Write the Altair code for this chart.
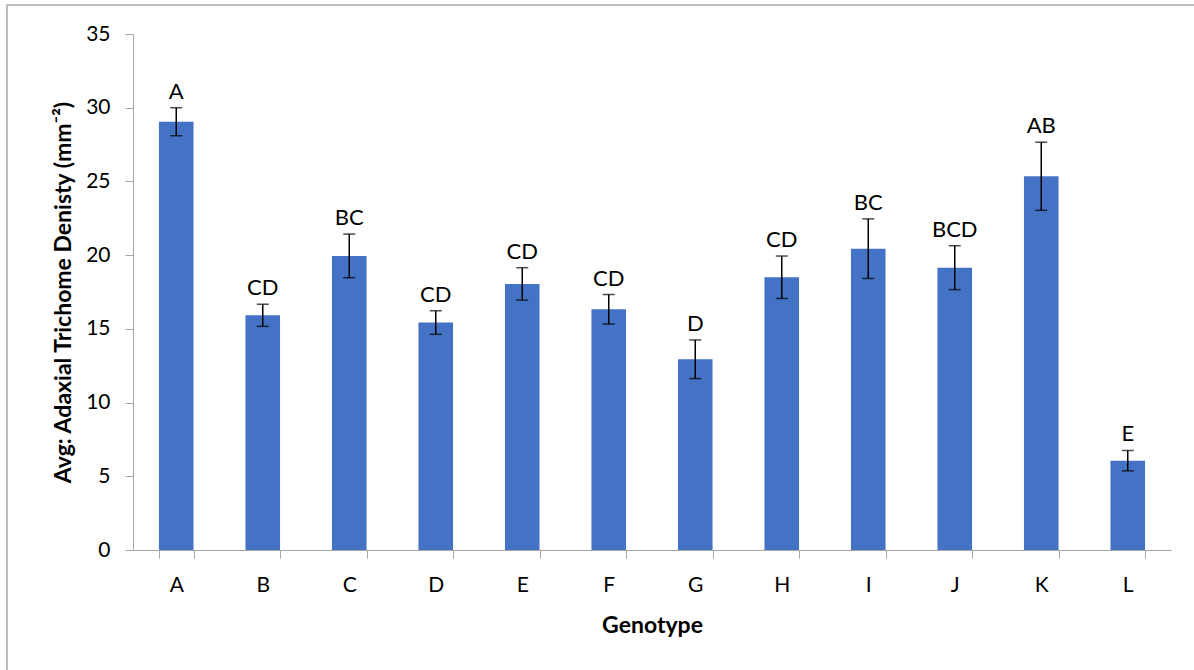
import altair as alt
import pandas as pd

# Mean adaxial trichome density per genotype, with error half-widths and
# significance-group letters.
genotypes = ["A", "B", "C", "D", "E", "F", "G", "H", "I", "J", "K", "L"]
means = [29.05, 15.92, 19.95, 15.43, 18.05, 16.33, 12.94, 18.50, 20.44, 19.15, 25.35, 6.06]
errors = [0.95, 0.75, 1.48, 0.80, 1.10, 1.00, 1.31, 1.44, 2.02, 1.49, 2.31, 0.69]
groups = ["A", "CD", "BC", "CD", "CD", "CD", "D", "CD", "BC", "BCD", "AB", "E"]

df = pd.DataFrame({"genotype": genotypes, "mean": means, "err": errors, "group": groups})
df["lo"] = df["mean"] - df["err"]
df["hi"] = df["mean"] + df["err"]

FONT = "Lato"
W, H = 1038, 516

x = alt.X(
    "genotype:N",
    sort=genotypes,
    scale=alt.Scale(paddingInner=0.6, paddingOuter=0.3),
    axis=alt.Axis(
        title="Genotype",
        labelAngle=0,
        tickBand="extent",
        tickSize=8,
        domainColor="#a6a6a6",
        tickColor="#a6a6a6",
        labelFontSize=21,
        labelColor="#000000",
        labelPadding=16,
        titleFontSize=23,
        titleFontWeight="bold",
        titleColor="#000000",
        titlePadding=19,
    ),
)
yscale = alt.Scale(domain=[0, 35], nice=False)
y_axis = alt.Axis(
    title="Avg: Adaxial Trichome Denisty (mm⁻²)",
    values=[0, 5, 10, 15, 20, 25, 30, 35],
    grid=False,
    tickSize=8,
    domainColor="#a6a6a6",
    tickColor="#a6a6a6",
    labelFontSize=21,
    labelColor="#000000",
    labelPadding=15,
    titleFontSize=23,
    titleFontWeight="bold",
    titleColor="#000000",
    titlePadding=10,
)

base = alt.Chart(df)

frame = base.mark_rect(fill=None, stroke="#bfbfbf", strokeWidth=1.5).encode(
    x=alt.value(-126), x2=alt.value(1063), y=alt.value(-29), y2=alt.value(700)
)

bars = base.mark_bar(color="#4472C4").encode(
    x=x,
    y=alt.Y("mean:Q", scale=yscale, axis=y_axis),
)

whisker = base.mark_rule(color="#000000", strokeWidth=1.5).encode(
    x=alt.X("genotype:N", sort=genotypes),
    y="lo:Q",
    y2="hi:Q",
)
cap_hi = base.mark_tick(color="#000000", orient="horizontal", size=12, thickness=1.5).encode(
    x=alt.X("genotype:N", sort=genotypes), y="hi:Q"
)
cap_lo = base.mark_tick(color="#000000", orient="horizontal", size=12, thickness=1.5).encode(
    x=alt.X("genotype:N", sort=genotypes), y="lo:Q"
)
letters = base.mark_text(
    font=FONT, fontSize=22, color="#000000", baseline="bottom", dy=-4
).encode(
    x=alt.X("genotype:N", sort=genotypes),
    y="hi:Q",
    text="group:N",
)

chart = (
    alt.layer(frame, bars, whisker, cap_hi, cap_lo, letters)
    .properties(
        width=W,
        height=H,
        autosize=alt.AutoSizeParams(type="none"),
        padding={"left": 133, "top": 34, "right": 23, "bottom": 120},
        background="#ffffff",
    )
    .configure_view(stroke=None)
    .configure_axis(labelFont=FONT, titleFont=FONT)
)

chart.save("out.html", embed_options={"renderer": "svg", "actions": False})
